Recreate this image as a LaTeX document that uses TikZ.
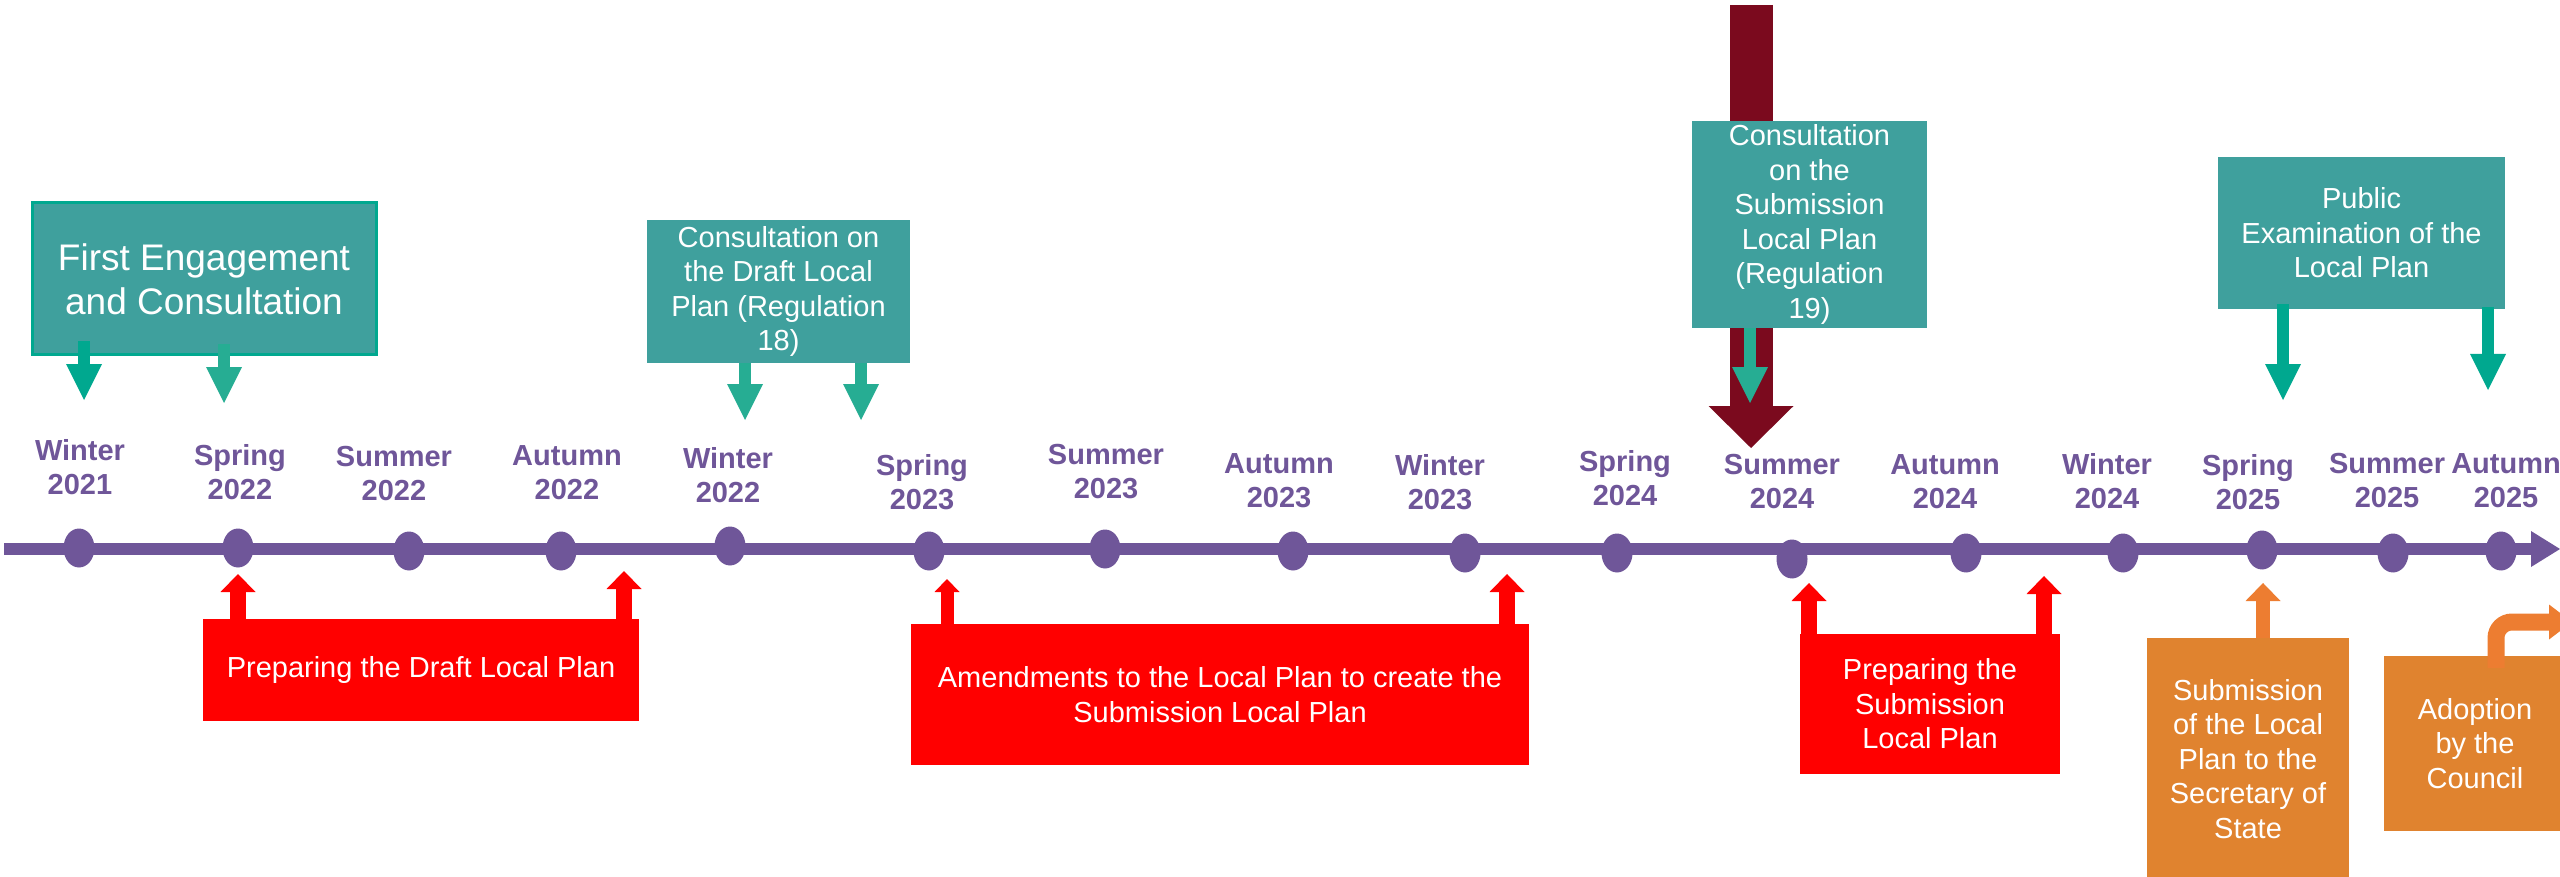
\documentclass[tikz,border=0pt]{standalone}
\usepackage{fontspec}
\setmainfont{Liberation Sans}
\usetikzlibrary{arrows.meta,shapes.geometric}
\definecolor{tlpurple}{HTML}{6F5699}
\definecolor{boxteal}{HTML}{3FA09D}
\definecolor{tealA}{HTML}{00A88F}
\definecolor{tealB}{HTML}{26AD93}
\definecolor{regmaroon}{HTML}{7B0A1E}
\definecolor{boxorange}{HTML}{E0832F}
\definecolor{arrorange}{HTML}{ED7D31}
\begin{document}
\begin{tikzpicture}[x=1pt, y=-1pt,
  season/.style={font=\fontsize{29}{34}\selectfont\bfseries, text=tlpurple, align=center, inner sep=0pt},
  dot/.style={ellipse, fill=tlpurple, minimum width=31pt, minimum height=39pt, inner sep=0pt},
  stage/.style={fill=boxteal, text=white, font=\fontsize{29}{34.5}\selectfont, align=center, inner sep=0pt},
  prepbox/.style={stage, fill=red},
  govbox/.style={stage, fill=boxorange},
  consarr/.style={draw=tealB, line width=12pt, -{Triangle[length=36pt, width=36pt, line width=0pt]}},
  preparr/.style={draw=red, line width=16pt, -{Triangle[length=18pt, width=35pt, line width=0pt]}},
  govarr/.style={draw=arrorange, line width=15pt, -{Triangle[length=18pt, width=35pt, line width=0pt]}}]
\useasboundingbox (0,0) rectangle (2560,877);
\coordinate (tl-start) at (4,549);
\coordinate (tl-end) at (2560,549);
\draw[tlpurple, line width=12pt, -{Triangle[length=29pt, width=36pt, line width=0pt]}] (tl-start) -- (tl-end);
\foreach \n/\dx/\dy/\lx/\ly/\sea/\yr in {1/79/548/80/467/Winter/2021, 2/238/548/240/472/Spring/2022,
    3/409/551/394/474/Summer/2022, 4/561/551/567/473/Autumn/2022, 5/730/546/728/475/Winter/2022,
    6/929/551/922/482/Spring/2023, 7/1105/549/1106/472/Summer/2023, 8/1293/551/1279/481/Autumn/2023,
    9/1465/553/1440/482/Winter/2023, 10/1617/553/1625/478/Spring/2024, 11/1792/559/1782/482/Summer/2024,
    12/1966/553/1945/482/Autumn/2024, 13/2123/553/2107/481/Winter/2024, 14/2262/550/2248/482/Spring/2025,
    15/2393/553/2387/481/Summer/2025, 16/2501/551/2506/481/Autumn/2025}{
  \node[dot] (d-\n) at (\dx,\dy) {};
  \node[season] (s-\n) at (\lx,\ly) {\sea\\\yr};
}
\node[stage, draw=tealA, line width=3pt, minimum width=344pt, minimum height=152pt, font=\fontsize{37}{44}\selectfont] (engage) at (204,279) {First Engagement\\and Consultation};
\coordinate (engage-a) at (84,400);
\coordinate (engage-b) at (224,403);
\draw[consarr, draw=tealA] (engage.south -| engage-a) ++(0,-15) -- (engage-a);
\draw[consarr] (engage.south -| engage-b) ++(0,-12) -- (engage-b);
\node[stage, minimum width=263pt, minimum height=143pt] (draftcons) at (778.5,291.5) {Consultation on\\the Draft Local\\Plan (Regulation\\18)};
\coordinate (draftcons-a) at (745,420);
\coordinate (draftcons-b) at (861,420);
\draw[consarr] (draftcons.south -| draftcons-a) -- (draftcons-a);
\draw[consarr] (draftcons.south -| draftcons-b) -- (draftcons-b);
\coordinate (reg-top) at (1751,5);
\coordinate (reg-tip) at (1751,448);
\draw[draw=regmaroon, line width=43pt, -{Triangle[length=42pt, width=85pt, line width=0pt]}] (reg-top) -- (reg-tip);
\node[stage, minimum width=235pt, minimum height=207pt] (subcons) at (1809.5,224.5) {Consultation\\on the\\Submission\\Local Plan\\(Regulation\\19)};
\coordinate (subcons-a) at (1750,403);
\draw[consarr] (subcons.south -| subcons-a) -- (subcons-a);
\node[stage, minimum width=287pt, minimum height=152pt] (exam) at (2361.5,233) {Public\\Examination of the\\Local Plan};
\coordinate (exam-a) at (2283,400);
\coordinate (exam-b) at (2488,390);
\draw[consarr, draw=tealA] (exam.south -| exam-a) ++(0,-5) -- (exam-a);
\draw[consarr, draw=tealA] (exam.south -| exam-b) ++(0,-2) -- (exam-b);
\node[prepbox, minimum width=436pt, minimum height=102pt] (prepdraft) at (421,670) {Preparing the Draft Local Plan};
\coordinate (prepdraft-a) at (238,574);
\coordinate (prepdraft-b) at (624,571);
\draw[preparr] (prepdraft.north -| prepdraft-a) -- (prepdraft-a);
\draw[preparr] (prepdraft.north -| prepdraft-b) -- (prepdraft-b);
\node[prepbox, minimum width=618pt, minimum height=141pt] (amend) at (1220,694.5) {Amendments to the Local Plan to create the\\Submission Local Plan};
\coordinate (amend-a) at (947,579);
\coordinate (amend-b) at (1507,574);
\draw[preparr, line width=13pt, -{Triangle[length=13pt, width=25pt, line width=0pt]}] (amend.north -| amend-a) -- (amend-a);
\draw[preparr] (amend.north -| amend-b) -- (amend-b);
\node[prepbox, minimum width=260pt, minimum height=140pt] (prepsub) at (1930,704) {Preparing the\\Submission\\Local Plan};
\coordinate (prepsub-a) at (1809,583);
\coordinate (prepsub-b) at (2044,576);
\draw[preparr] (prepsub.north -| prepsub-a) -- (prepsub-a);
\draw[preparr] (prepsub.north -| prepsub-b) -- (prepsub-b);
\node[govbox, minimum width=202pt, minimum height=242pt] (submit) at (2248,759) {Submission\\of the Local\\Plan to the\\Secretary of\\State};
\coordinate (submit-a) at (2263,583);
\draw[govarr, line width=14pt] (submit.north -| submit-a) -- (submit-a);
\node[govbox, minimum width=182pt, minimum height=175pt] (adopt) at (2475,743.5) {Adoption\\by the\\Council};
\coordinate (adopt-out) at (2572,622);
\draw[govarr, line width=17pt, rounded corners=16pt, -{Triangle[length=23pt, width=35pt, line width=0pt]}] (adopt.north -| 2496,0) ++(0,12) |- (adopt-out);
\end{tikzpicture}
\end{document}
